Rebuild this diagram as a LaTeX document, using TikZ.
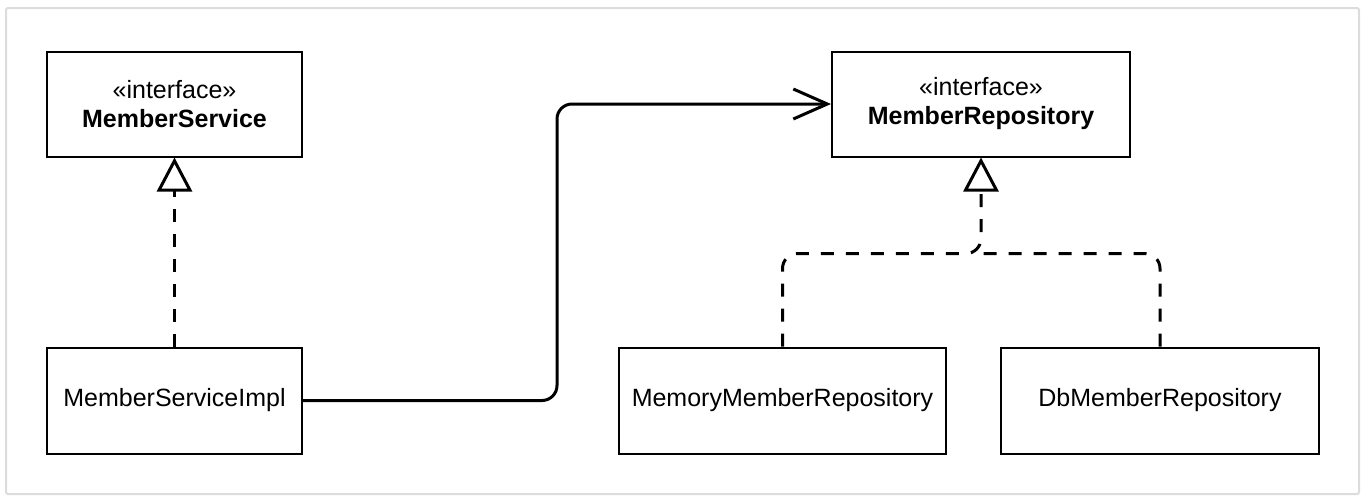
\documentclass[tikz,border=0pt]{standalone}
\usepackage{fontspec}
\setmainfont{Liberation Sans}
\usepackage{xcolor}
\usetikzlibrary{arrows.meta, positioning, calc}
\definecolor{framegray}{HTML}{DCDCDC}

\begin{document}
\begin{tikzpicture}[x=1pt,y=-1pt,>={Straight Barb[length=34pt,width=30pt]},
			class node/.style={rectangle,draw,line width=2pt,minimum height=105pt,inner sep=0pt,
				align=center,font=\fontsize{25}{29}\selectfont},
			realize/.style={line width=3pt,dash pattern=on 13pt off 12pt,rounded corners=15pt},
			assoc/.style={line width=3pt,rounded corners=15pt,->}]
			
			\useasboundingbox (0,0) rectangle (1368,501);
			\draw[framegray,line width=2pt,rounded corners=2pt] (6,8) rectangle (1359,494);
			
			\node[class node,minimum width=255pt] (service) at (174.5,104) {«interface»\\\textbf{MemberService}};
			\node[class node,minimum width=298pt] (repo) [right=528pt of service] {«interface»\\\textbf{MemberRepository}};
			\node[class node,minimum width=255pt,minimum height=106pt] (impl) [below=189pt of service] {MemberServiceImpl};
			\node[class node,minimum width=327pt,minimum height=106pt] (mem) [right=315pt of impl] {MemoryMemberRepository};
			\node[class node,minimum width=318pt,minimum height=106pt] (db) [right=53pt of mem] {DbMemberRepository};
			
			\coordinate (join) at ($(repo.south)+(0,96)$);
			\coordinate (bend) at ($(impl.east)+(254,0)$);
			
			\draw[realize,-{Triangle[open,length=34pt,width=35pt]}] (impl.north) -- (service.south);
			\draw[realize,-{Triangle[open,length=34pt,width=35pt]}] (mem.north) |- (join) -- (repo.south);
			\draw[realize] (db.north) |- (join);
			\draw[assoc] (impl.east) -- (bend) |- (repo.west);
		\end{tikzpicture}
\end{document}
